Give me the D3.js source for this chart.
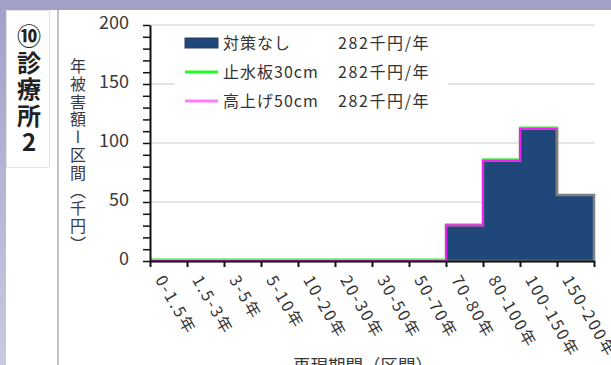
<!DOCTYPE html>
<html>
<head>
<meta charset="utf-8">
<script src="https://cdn.jsdelivr.net/npm/d3@7"></script>
<style>
  html, body { margin: 0; padding: 0; background: #fff; }
  svg { display: block; }
  text { font-family: "Noto Sans CJK JP", "Noto Sans", sans-serif; }
</style>
</head>
<body>
<svg id="chart" width="611" height="365"></svg>
<script>
// Return-period classes (x axis)
const categories = ["0-1.5年", "1.5-3年", "3-5年", "5-10年", "10-20年", "20-30年",
  "30-50年", "50-70年", "70-80年", "80-100年", "100-150年", "150-200年"];

// Annual damage per class (千円)
const noMeasure   = [0, 0, 0, 0, 0, 0, 0, 0, 30, 85, 112, 56];   // 対策なし
const stopPlate30 = [0, 0, 0, 0, 0, 0, 0, 0, 30, 85, 112, 56];   // 止水板30cm
const raise50     = [0, 0, 0, 0, 0, 0, 0, 0, 30, 85, 112, 56];   // 高上げ50cm

const seriesNames  = ["対策なし", "止水板30cm", "高上げ50cm"];
const seriesTotals = ["282千円/年", "282千円/年", "282千円/年"];

const yTicks = [0, 50, 100, 150, 200];
const panelTitle = "⑩診療所2";
const yTitle = "年被害額ー区間（千円）";
const xTitle = "再現期間（区間）";

const W = 611, H = 365;
const svg = d3.select("#chart");

// page frame: lavender band and strip, side panel
const defs = svg.append("defs");
const grad = defs.append("linearGradient").attr("id", "strip").attr("x1", 0).attr("x2", 0).attr("y1", 0).attr("y2", 1);
grad.append("stop").attr("offset", "0%").attr("stop-color", "#a1a1c8");
grad.append("stop").attr("offset", "100%").attr("stop-color", "#c9c9e0");
svg.append("rect").attr("x", 0).attr("y", 0).attr("width", W).attr("height", 10).attr("fill", "#a1a1c8");
svg.append("rect").attr("x", 0).attr("y", 0).attr("width", 6).attr("height", H).attr("fill", "url(#strip)");
svg.append("rect").attr("x", 6.5).attr("y", 10.5).attr("width", 43).attr("height", 157)
  .attr("fill", "#fff").attr("stroke", "#e4e4e4").attr("stroke-width", 1);
svg.append("line").attr("x1", 58).attr("x2", 58).attr("y1", 10).attr("y2", H)
  .attr("stroke", "#c4c4c4").attr("stroke-width", 2);

svg.append("text")
  .attr("x", 29).attr("y", 24)
  .style("writing-mode", "vertical-rl")
  .style("text-orientation", "upright")
  .attr("font-size", 24).attr("font-weight", "bold")
  .attr("letter-spacing", 2.5)
  .attr("fill", "#222")
  .text(panelTitle);

// scales
const x = d3.scaleBand().domain(categories).range([150, 594]).paddingInner(0).paddingOuter(0);
const y = d3.scaleLinear().domain([0, 200]).range([261, 25]);
const bw = x.bandwidth();

// gridlines
svg.append("g").selectAll("line").data(yTicks.filter(d => d > 0)).join("line")
  .attr("x1", 150).attr("x2", 595)
  .attr("y1", d => y(d)).attr("y2", d => y(d))
  .attr("stroke", "#dcdcdc").attr("stroke-width", 1.5);

// step-area for 対策なし
const pts = noMeasure.map((v, i) => [x(categories[i]), v]);
pts.push([x.range()[1], noMeasure[noMeasure.length - 1]]);
const area = d3.area().curve(d3.curveStepAfter)
  .x(d => d[0]).y0(y(0)).y1(d => y(d[1]));
svg.append("path").datum(pts).attr("d", area)
  .attr("fill", "#1f477a").attr("stroke", "#808080").attr("stroke-width", 2.5);

// step lines for the two countermeasures
const stepLine = (vals, dy) => d3.line().curve(d3.curveStepAfter)
  .x((v, i) => x(categories[i])).y(v => y(v) + dy)(vals);
svg.append("path").attr("d", stepLine(stopPlate30, -1.8))
  .attr("fill", "none").attr("stroke", "#6cff6c").attr("stroke-width", 1.8);
svg.append("path").attr("d", stepLine(raise50, -0.3))
  .attr("fill", "none").attr("stroke", "#f020f0").attr("stroke-width", 2);
// re-stroke the last drop edge of the area so it reads grey
const xl = x(categories[categories.length - 1]);
svg.append("line").attr("x1", xl).attr("x2", xl)
  .attr("y1", y(raise50[raise50.length - 2])).attr("y2", y(noMeasure[noMeasure.length - 1]))
  .attr("stroke", "#808080").attr("stroke-width", 2.5);

// legend
const lg = svg.append("g");
lg.append("rect").attr("x", 175).attr("y", 28).attr("width", 273).attr("height", 86).attr("fill", "#fff");
const rowY = [43, 72, 101];
lg.append("rect").attr("x", 185).attr("y", rowY[0] - 5).attr("width", 33).attr("height", 10)
  .attr("fill", "#1f477a").attr("stroke", "#2a3e5c").attr("stroke-width", 1);
lg.append("line").attr("x1", 185).attr("x2", 218).attr("y1", rowY[1]).attr("y2", rowY[1])
  .attr("stroke", "#22ff22").attr("stroke-width", 3);
lg.append("line").attr("x1", 185).attr("x2", 218).attr("y1", rowY[2]).attr("y2", rowY[2])
  .attr("stroke", "#ff7aff").attr("stroke-width", 3);
lg.selectAll("text.name").data(seriesNames).join("text").attr("class", "name")
  .attr("x", 223).attr("y", (d, i) => rowY[i]).attr("dy", "0.36em")
  .attr("font-size", 16).attr("letter-spacing", 1).attr("fill", "#333")
  .text(d => d);
lg.selectAll("text.total").data(seriesTotals).join("text").attr("class", "total")
  .attr("x", 338).attr("y", (d, i) => rowY[i]).attr("dy", "0.36em")
  .attr("font-size", 16).attr("letter-spacing", 1.6).attr("fill", "#333")
  .text(d => d);

// y axis with minor ticks
const yMinor = d3.axisLeft(y).tickValues(d3.range(0, 201, 10)).tickSize(7).tickFormat("");
const gyMinor = svg.append("g").attr("transform", "translate(150,0)").call(yMinor);
gyMinor.select(".domain").remove();
gyMinor.selectAll(".tick line").attr("stroke", "#111").attr("stroke-width", 1.5);
const yAxis = d3.axisLeft(y).tickValues(yTicks).tickSize(0).tickPadding(21).tickSizeOuter(0);
const gy = svg.append("g").attr("transform", "translate(150,0)").call(yAxis);
gy.select(".domain").attr("stroke", "#111").attr("stroke-width", 2);
gy.selectAll(".tick text")
  .attr("font-family", "'Liberation Sans', Arial, sans-serif")
  .attr("font-size", 18).attr("fill", "#3a3a3a").attr("dy", "0.22em");

// x axis: ticks on class boundaries
const xb = d3.scaleLinear().domain([0, categories.length]).range(x.range());
const xAxis = d3.axisBottom(xb).tickValues(d3.range(0, categories.length + 1)).tickSize(6).tickFormat("").tickSizeOuter(0);
const gx = svg.append("g").attr("transform", `translate(0,${y(0)})`).call(xAxis);
gx.select(".domain").attr("stroke", "#111").attr("stroke-width", 2);
gx.selectAll(".tick line").attr("stroke", "#111").attr("stroke-width", 2);

svg.append("g").selectAll("text").data(categories).join("text")
  .attr("transform", d => `translate(${x(d) + bw / 2 - 9},${y(0) + 16}) rotate(60)`)
  .attr("text-anchor", "start")
  .attr("dy", "0.35em")
  .attr("font-size", 16).attr("letter-spacing", 2).attr("fill", "#333")
  .text(d => d);

// axis titles
svg.append("text")
  .attr("x", 78).attr("y", 58)
  .style("writing-mode", "vertical-rl")
  .attr("font-size", 16).attr("letter-spacing", 1.8)
  .attr("fill", "#3a3a4a")
  .text(yTitle);

svg.append("text")
  .attr("x", 363).attr("y", 372)
  .attr("text-anchor", "middle")
  .attr("font-size", 17.5).attr("fill", "#3a3a3a")
  .text(xTitle);
</script>
</body>
</html>
